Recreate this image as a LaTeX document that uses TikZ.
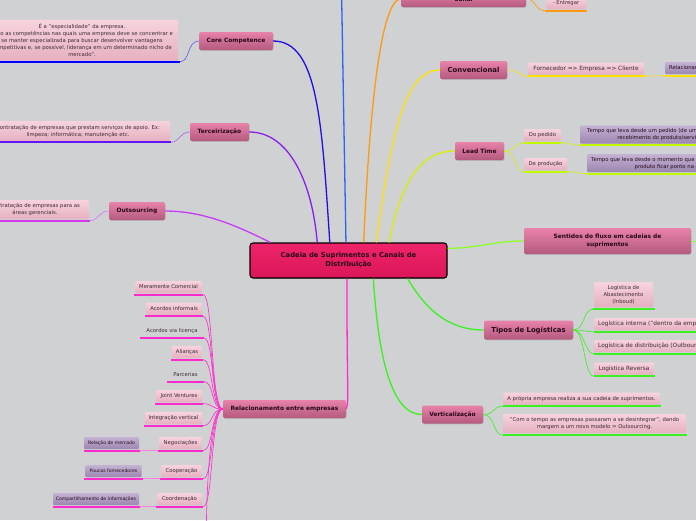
\documentclass[tikz,border=0pt]{standalone}
\usepackage{fontspec}
\setmainfont{DejaVu Sans}
\usetikzlibrary{shadows}

\definecolor{fundo}{RGB}{208,209,211}
\definecolor{centroA}{RGB}{238,36,106}
\definecolor{centroB}{RGB}{218,22,88}
\definecolor{topicoA}{RGB}{232,130,170}
\definecolor{topicoB}{RGB}{180,90,126}
\definecolor{subA}{RGB}{247,211,222}
\definecolor{subB}{RGB}{230,176,192}
\definecolor{notaA}{RGB}{196,178,212}
\definecolor{notaB}{RGB}{156,134,176}
\definecolor{textoT}{RGB}{40,8,24}
\definecolor{textoS}{RGB}{60,44,52}
\definecolor{azulCore}{RGB}{32,16,224}
\definecolor{roxoTerc}{RGB}{138,31,240}
\definecolor{lilasOuts}{RGB}{200,60,245}
\definecolor{azulTopo}{RGB}{43,99,245}
\definecolor{laranja}{RGB}{255,154,16}
\definecolor{amarelo}{RGB}{255,226,0}
\definecolor{limao}{RGB}{214,240,0}
\definecolor{verdeA}{RGB}{140,255,42}
\definecolor{verdeB}{RGB}{60,240,34}
\definecolor{magenta}{RGB}{255,42,204}

\begin{document}
\begin{tikzpicture}[x=1pt, y=-1pt,
    central/.style={draw=black, line width=1.1pt, rounded corners=3pt, top color=centroA, bottom color=centroB,
      minimum width=197pt, minimum height=35pt, align=center, text=textoT,
      font=\bfseries\fontsize{6.8}{9}\selectfont, drop shadow={opacity=0.3, shadow xshift=0.6pt, shadow yshift=-0.8pt}},
    topic/.style={rounded corners=2pt, top color=topicoA, bottom color=topicoB, inner sep=0pt,
      minimum height=18pt, align=center, text=textoT, font=\bfseries\fontsize{5.9}{8}\selectfont,
      drop shadow={opacity=0.3, shadow xshift=0.6pt, shadow yshift=-0.8pt}},
    bigtopic/.style={topic, font=\bfseries\fontsize{6.9}{8}\selectfont},
    subtopic/.style={rounded corners=1pt, top color=subA, bottom color=subB, inner sep=0pt,
      minimum height=12pt, align=center, text=textoS, font=\fontsize{5.3}{7}\selectfont},
    widesub/.style={subtopic, font=\fontsize{5.8}{7}\selectfont},
    note/.style={subtopic, top color=notaA, bottom color=notaB, text=textoT, font=\fontsize{4.6}{6.5}\selectfont},
    bignote/.style={note, font=\fontsize{5.3}{7}\selectfont},
    plain/.style={inner sep=0pt, minimum height=12pt, text=textoS, font=\fontsize{5.3}{7}\selectfont},
    ul/.style={line width=2.4pt},
    link/.style={line width=1.3pt},
    twig/.style={line width=0.6pt}
]
    \path[use as bounding box, fill=fundo] (0,0) rectangle (696,520);
    \clip (0,0) rectangle (696,520);

    % centro
    \node[central] (cadeia) at (348.5,260.5) {Cadeia de Suprimentos e Canais de\\Distribuição};

    % lado esquerdo
    \node[topic, minimum width=74pt] (core) at (236,41) {Core Competence};
    \node[subtopic, minimum width=192pt, minimum height=41pt] (coretxt) at (82,40)
      {É a "especialidade" da empresa.\\"São as competências nas quais uma empresa deve se concentrar e\\se manter especializada para buscar desenvolver vantagens\\competitivas e, se possível, liderança em um determinado nicho de\\mercado".};
    \node[topic, minimum width=59pt] (terc) at (219.5,132) {Terceirização};
    \node[subtopic, minimum width=184pt, minimum height=20pt] (terctxt) at (78,131)
      {Contratação de empresas que prestam serviços de apoio. Ex:\\limpeza; informática; manutenção etc.};
    \node[topic, minimum width=56pt] (outs) at (137,211) {Outsourcing};
    \node[subtopic, minimum width=108pt, minimum height=19pt] (outstxt) at (35,209.5)
      {Contratação de empresas para as\\áreas gerenciais.};

    % topo
    \node[topic, minimum width=125pt, minimum height=16pt] (canal) at (463.5,-1) {Canal};
    \node[subtopic, minimum width=40pt] (entregar) at (566,3) {- Entregar};
    \coordinate (topoazul) at (341,-40);

    % lado direito
    \node[bigtopic, minimum width=67pt] (conv) at (473.5,70) {Convencional};
    \node[widesub, minimum width=116pt] (forn) at (586,68.5) {Fornecedor => Empresa => Cliente};
    \node[bignote, inner xsep=4pt, anchor=west] (relac) at (665,68) {Relacionamento};

    \node[topic, minimum width=49pt] (lead) at (479.5,151) {Lead Time};
    \node[subtopic, minimum width=37pt] (pedido) at (542.5,135) {Do pedido};
    \node[subtopic, minimum width=43pt] (producao) at (545.5,164) {De produção};
    \node[bignote, minimum height=18pt, inner xsep=7pt, anchor=west] (tpedido) at (580,134.5)
      {Tempo que leva desde um pedido (de um cliente) até o\\recebimento do produto/serviço.};
    \node[bignote, minimum height=18pt, inner xsep=4pt, anchor=west] (tproducao) at (587,163)
      {Tempo que leva desde o momento que o pedido é recebido até o\\produto ficar ponto na empresa.};

    \node[topic, minimum width=167pt, minimum height=26pt] (sentidos) at (607.5,241) {Sentidos do fluxo em cadeias de\\suprimentos};
    \coordinate (sentidosfora) at (730,241);

    \node[bigtopic, minimum width=89pt, minimum height=19pt] (tipos) at (528.5,330) {Tipos de Logísticas};
    \node[subtopic, minimum width=59pt, minimum height=25pt] (inbound) at (623.5,294.5) {Logística de\\Abastecimento\\(Inboud)};
    \node[widesub, inner xsep=4pt, anchor=west] (interna) at (594,324) {Logística interna ("dentro da empresa")};
    \node[widesub, inner xsep=4pt, anchor=west] (distrib) at (594,346) {Logística de distribuição (Outbound)};
    \node[widesub, minimum width=60pt] (reversa) at (624,368.5) {Logística Reversa};

    \node[topic, minimum width=61pt] (vert) at (452.5,414.5) {Verticalização};
    \node[subtopic, minimum width=157pt] (propria) at (581.5,398.5) {A própria empresa realiza a sua cadeia de suprimentos.};
    \node[subtopic, minimum width=183pt, minimum height=19pt] (desint) at (594.5,423.5)
      {"Com o tempo as empresas passaram a se desintegrar", dando\\margem a um novo modelo = Outsourcing.};

    % relacionamentos
    \node[topic, minimum width=123pt] (rel) at (284.5,409) {Relacionamento entre empresas};
    \node[subtopic, minimum width=67pt] (meramente) at (168.5,287) {Meramente Comercial};
    \node[subtopic, minimum width=56pt] (informais) at (174,308.5) {Acordos informais};
    \node[plain, minimum width=62pt] (licenca) at (172,331) {Acordos via licença};
    \node[subtopic, minimum width=30pt] (aliancas) at (187,352) {Alianças};
    \node[plain, minimum width=35pt] (parcerias) at (185.5,374.5) {Parcerias};
    \node[subtopic, minimum width=46pt] (joint) at (179,396) {Joint Ventures};
    \node[subtopic, minimum width=57pt] (integracao) at (173.5,418) {Integração vertical};
    \node[subtopic, minimum width=43pt] (negociacoes) at (180.5,443) {Negociações};
    \node[note, minimum width=55pt] (mercado) at (111.5,443) {Relação de mercado};
    \node[subtopic, minimum width=41pt] (cooperacao) at (181.5,471) {Cooperação};
    \node[note, minimum width=56pt] (poucos) at (113.5,471) {Poucos fornecedores};
    \node[subtopic, minimum width=45pt] (coordenacao) at (179.5,499) {Coordenação};
    \node[note, minimum width=86pt] (compart) at (96,499) {Compartilhamento de informações};
    \coordinate (relfora) at (206,560);

    % sublinhados
    \draw[ul, blue] ([yshift=-1pt]coretxt.south west) -- ([xshift=2pt,yshift=-1pt]coretxt.south east);
    \draw[ul, roxoTerc!70!blue] ([yshift=-1pt]terctxt.south west) -- ([xshift=1pt,yshift=-1pt]terctxt.south east);
    \draw[ul, lilasOuts!80!magenta] ([yshift=-1.5pt]outstxt.south west) -- ([xshift=1pt,yshift=-1.5pt]outstxt.south east);
    \draw[ul, laranja] ([xshift=-1pt,yshift=-1.5pt]entregar.south west) -- ([xshift=1pt,yshift=-1.5pt]entregar.south east);
    \draw[ul, amarelo] ([yshift=-1.5pt]forn.south west) -- ([xshift=2pt,yshift=-1.5pt]forn.south east);
    \draw[ul, amarelo] ([yshift=-1.5pt]relac.south west) -- ([yshift=-1.5pt]relac.south east);
    \draw[ul, limao!70!green!60!yellow] ([yshift=-1.5pt]pedido.south west) -- ([yshift=-1.5pt]pedido.south east);
    \draw[ul, limao!70!green!60!yellow] ([yshift=-1.5pt]producao.south west) -- ([yshift=-1.5pt]producao.south east);
    \draw[ul, limao!70!green!60!yellow] ([yshift=-1.5pt]tpedido.south west) -- ([yshift=-1.5pt]tpedido.south east);
    \draw[ul, limao!70!green!60!yellow] ([yshift=-1.5pt]tproducao.south west) -- ([yshift=-1.5pt]tproducao.south east);
    \draw[ul, verdeB] ([xshift=-1pt,yshift=-2pt]inbound.south west) -- ([xshift=2pt,yshift=-2pt]inbound.south east);
    \draw[ul, verdeB] ([yshift=-1.5pt]interna.south west) -- ([yshift=-1.5pt]interna.south east);
    \draw[ul, verdeB] ([yshift=-1.5pt]distrib.south west) -- ([yshift=-1.5pt]distrib.south east);
    \draw[ul, verdeB] ([yshift=-1.5pt]reversa.south west) -- ([xshift=1pt,yshift=-1.5pt]reversa.south east);
    \draw[ul, verdeB] ([yshift=-1.5pt]propria.south west) -- ([xshift=1pt,yshift=-1.5pt]propria.south east);
    \draw[ul, verdeB] ([yshift=-2pt]desint.south west) -- ([xshift=1pt,yshift=-2pt]desint.south east);
    \draw[ul, magenta] ([xshift=-1pt,yshift=-1.5pt]meramente.south west) -- ([xshift=1pt,yshift=-1.5pt]meramente.south east);
    \draw[ul, magenta] ([xshift=-1pt,yshift=-1.5pt]informais.south west) -- ([xshift=1pt,yshift=-1.5pt]informais.south east);
    \draw[ul, magenta] ([xshift=-1pt,yshift=-1pt]licenca.south west) -- ([xshift=1pt,yshift=-1pt]licenca.south east);
    \draw[ul, magenta] ([xshift=-1pt,yshift=-1.5pt]aliancas.south west) -- ([xshift=1pt,yshift=-1.5pt]aliancas.south east);
    \draw[ul, magenta] ([xshift=-1pt,yshift=-1pt]parcerias.south west) -- ([xshift=1pt,yshift=-1pt]parcerias.south east);
    \draw[ul, magenta] ([xshift=-1pt,yshift=-1.5pt]joint.south west) -- ([xshift=1pt,yshift=-1.5pt]joint.south east);
    \draw[ul, magenta] ([xshift=-1pt,yshift=-1.5pt]integracao.south west) -- ([xshift=1pt,yshift=-1.5pt]integracao.south east);
    \draw[ul, magenta] ([xshift=-1pt,yshift=-1.5pt]negociacoes.south west) -- ([xshift=1pt,yshift=-1.5pt]negociacoes.south east);
    \draw[ul, magenta] ([yshift=-1.5pt]mercado.south west) -- ([xshift=1pt,yshift=-1.5pt]mercado.south east);
    \draw[ul, magenta] ([xshift=-1pt,yshift=-1.5pt]cooperacao.south west) -- ([xshift=1pt,yshift=-1.5pt]cooperacao.south east);
    \draw[ul, magenta] ([xshift=-1pt,yshift=-1.5pt]poucos.south west) -- ([xshift=1pt,yshift=-1.5pt]poucos.south east);
    \draw[ul, magenta] ([xshift=-1pt,yshift=-1.5pt]coordenacao.south west) -- ([xshift=1pt,yshift=-1.5pt]coordenacao.south east);
    \draw[ul, magenta] ([yshift=-1.5pt]compart.south west) -- ([xshift=1pt,yshift=-1.5pt]compart.south east);

    % ramos principais
    \draw[link, azulCore] (cadeia.136.6) .. controls +(-8,-120) and +(45,0) .. (core.east);
    \draw[link, roxoTerc] (cadeia.150.2) .. controls +(-5,-60) and +(40,0) .. (terc.east);
    \draw[link, lilasOuts] (cadeia.167.7) .. controls +(-30,-15) and +(40,0) .. (outs.east);
    \draw[link, azulTopo] (cadeia.98.1) -- (topoazul);
    \draw[link, laranja] (cadeia.50.4) .. controls +(8,-180) and +(-15,0) .. (canal.west);
    \draw[link, amarelo] (cadeia.33.4) .. controls +(15,-110) and +(-35,0) .. (conv.west);
    \draw[link, limao] (cadeia.24.4) .. controls +(12,-60) and +(-35,0) .. (lead.west);
    \draw[link, verdeA] (cadeia.7.2) .. controls +(30,0) and +(-30,0) .. (sentidos.west);
    \draw[link, verdeB] (cadeia.-17.8) .. controls +(15,25) and +(-40,0) .. (tipos.west);
    \draw[link, verdeB] (cadeia.-36.7) .. controls +(5,80) and +(-30,0) .. (vert.west);
    \draw[link, magenta] (cadeia.265) .. controls +(0,115) and +(3,-8) .. (rel.east);

    % ramos secundarios
    \draw[twig, azulCore!70!white] (core.west) .. controls +(-12,0) and +(10,0) .. ([xshift=2pt,yshift=-1pt]coretxt.south east);
    \draw[twig, roxoTerc!70!white] (terc.west) .. controls +(-10,0) and +(8,0) .. ([xshift=1pt,yshift=-1pt]terctxt.south east);
    \draw[twig, lilasOuts!70!white] (outs.west) .. controls +(-10,0) and +(8,0) .. ([xshift=1pt,yshift=-1.5pt]outstxt.south east);
    \draw[twig, laranja] (canal.east) .. controls +(10,0) and +(-10,0) .. ([xshift=-1pt,yshift=-1.5pt]entregar.south west);
    \draw[twig, amarelo] (conv.east) .. controls +(12,0) and +(-10,0) .. ([yshift=-1.5pt]forn.south west);
    \draw[twig, amarelo] ([xshift=2pt,yshift=-1.5pt]forn.south east) .. controls +(8,0) and +(-8,0) .. ([yshift=-1.5pt]relac.south west);
    \draw[twig, limao] (lead.east) .. controls +(12,0) and +(-10,0) .. ([yshift=-1.5pt]pedido.south west);
    \draw[twig, limao] (lead.east) .. controls +(12,0) and +(-10,0) .. ([yshift=-1.5pt]producao.south west);
    \draw[twig, limao] ([yshift=-1.5pt]pedido.south east) .. controls +(8,0) and +(-8,0) .. ([yshift=-1.5pt]tpedido.south west);
    \draw[twig, limao] ([yshift=-1.5pt]producao.south east) .. controls +(8,0) and +(-8,0) .. ([yshift=-1.5pt]tproducao.south west);
    \draw[twig, verdeA] (sentidos.east) -- (sentidosfora);
    \draw[twig, verdeB] (tipos.east) .. controls +(12,0) and +(-10,0) .. ([xshift=-1pt,yshift=-2pt]inbound.south west);
    \draw[twig, verdeB] (tipos.east) .. controls +(12,0) and +(-10,0) .. ([yshift=-1.5pt]interna.south west);
    \draw[twig, verdeB] (tipos.east) .. controls +(12,0) and +(-10,0) .. ([yshift=-1.5pt]distrib.south west);
    \draw[twig, verdeB] (tipos.east) .. controls +(12,0) and +(-10,0) .. ([yshift=-1.5pt]reversa.south west);
    \draw[twig, verdeB] (vert.east) .. controls +(12,0) and +(-10,0) .. ([yshift=-1.5pt]propria.south west);
    \draw[twig, verdeB] (vert.east) .. controls +(12,0) and +(-10,0) .. ([yshift=-2pt]desint.south west);
    \draw[twig, magenta] (rel.west) .. controls +(-12,0) and +(10,0) .. ([xshift=1pt,yshift=-1.5pt]meramente.south east);
    \draw[twig, magenta] (rel.west) .. controls +(-12,0) and +(10,0) .. ([xshift=1pt,yshift=-1.5pt]informais.south east);
    \draw[twig, magenta] (rel.west) .. controls +(-12,0) and +(10,0) .. ([xshift=1pt,yshift=-1pt]licenca.south east);
    \draw[twig, magenta] (rel.west) .. controls +(-12,0) and +(10,0) .. ([xshift=1pt,yshift=-1.5pt]aliancas.south east);
    \draw[twig, magenta] (rel.west) .. controls +(-12,0) and +(10,0) .. ([xshift=1pt,yshift=-1pt]parcerias.south east);
    \draw[twig, magenta] (rel.west) .. controls +(-12,0) and +(10,0) .. ([xshift=1pt,yshift=-1.5pt]joint.south east);
    \draw[twig, magenta] (rel.west) .. controls +(-12,0) and +(10,0) .. ([xshift=1pt,yshift=-1.5pt]integracao.south east);
    \draw[twig, magenta] (rel.west) .. controls +(-12,0) and +(10,0) .. ([xshift=1pt,yshift=-1.5pt]negociacoes.south east);
    \draw[twig, magenta] (rel.west) .. controls +(-12,0) and +(10,0) .. ([xshift=1pt,yshift=-1.5pt]cooperacao.south east);
    \draw[twig, magenta] (rel.west) .. controls +(-12,0) and +(10,0) .. ([xshift=1pt,yshift=-1.5pt]coordenacao.south east);
    \draw[twig, magenta] (rel.west) .. controls +(-14,0) and +(0,-60) .. (relfora);
    \draw[twig, magenta!60!white] ([xshift=-1pt,yshift=-1.5pt]negociacoes.south west) .. controls +(-8,0) and +(8,0) .. ([xshift=1pt,yshift=-1.5pt]mercado.south east);
    \draw[twig, magenta!60!white] ([xshift=-1pt,yshift=-1.5pt]cooperacao.south west) .. controls +(-8,0) and +(8,0) .. ([xshift=1pt,yshift=-1.5pt]poucos.south east);
    \draw[twig, magenta!60!white] ([xshift=-1pt,yshift=-1.5pt]coordenacao.south west) .. controls +(-8,0) and +(8,0) .. ([xshift=1pt,yshift=-1.5pt]compart.south east);
\end{tikzpicture}
\end{document}
